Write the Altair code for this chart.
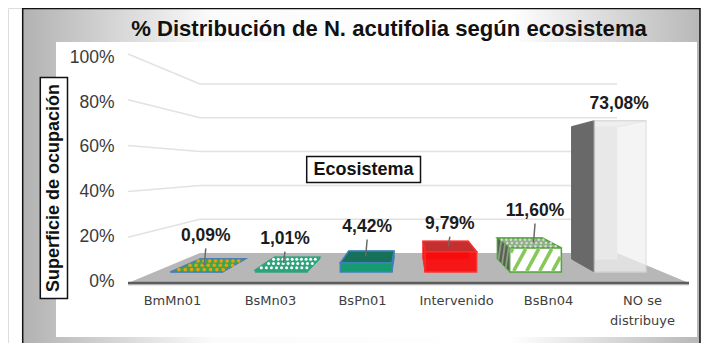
import altair as alt
import pandas as pd

# ---- data ----
CATEGORIES = ["BmMn01", "BsMn03", "BsPn01", "Intervenido", "BsBn04", "NO se distribuye"]
VALUES = [0.09, 1.01, 4.42, 9.79, 11.60, 73.08]
Y_TICKS = [0, 20, 40, 60, 80, 100]

# ---- layout of the 3D projection (image pixels) ----
W, H = 693, 335
OX, OY = 8, 8
FLOOR_FRONT_Y, FLOOR_BACK_Y = 283, 253
FRONT_K, BACK_K = 2.29, 1.69
L_F, R_F, L_B, R_B = 128, 689, 200, 617
D0, D1 = 0.367, 0.8
HALF = 0.61 / 2 / 6
X_PX0, X_K = 172, 94
Y_PX0, Y_K = 281, 2.236
LABEL_X = [172, 270, 362, 456, 548, 642]
LABEL_LIFT = [29, 24, 29.5, 22, 31.6, 20]
LABEL_DX = [9, 3.5, 1, -1, -0.5, -1]
LEADER = [True, True, True, True, True, False]

FONT = "Liberation Sans"


def px(X, p, d):
    l = L_F + (L_B - L_F) * d
    r = R_F + (R_B - R_F) * d
    y = FLOOR_FRONT_Y + (FLOOR_BACK_Y - FLOOR_FRONT_Y) * d - (FRONT_K + (BACK_K - FRONT_K) * d) * p
    return l + X * (r - l), y


def dx(x):
    return (x - X_PX0) / X_K


def dy(y):
    return (Y_PX0 - y) / Y_K


XS = alt.Scale(domain=[dx(OX), dx(OX + W)], nice=False, zero=False)
YS = alt.Scale(domain=[dy(OY + H), dy(OY)], nice=False, zero=False)

labels_js = "[" + ",".join(
    ("['NO se','distribuye']" if c.startswith("NO") else f"'{c}'") for c in CATEGORIES) + "]"
x_axis = alt.Axis(
    values=[dx(p) for p in LABEL_X],
    labelExpr=f"{labels_js}[round(datum.value)]",
    grid=False, domain=False, ticks=False, tickSize=0, offset=-49, labelPadding=0,
    labelFont="DejaVu Sans", labelFontSize=13, labelColor="#404040", labelBaseline="top",
    labelLineHeight=20, labelOverlap=False, labelFlush=False, zindex=1,
    title="Ecosistema", titleFont=FONT, titleFontSize=18, titleFontWeight="bold", titleColor="#111111",
    titleX=363 - OX, titleY=169 - (OY + H - 49), titleAlign="center", titleBaseline="middle", titleAnchor="start",
)
y_axis = alt.Axis(
    values=Y_TICKS, labelExpr="datum.value + '%'",
    grid=False, domain=False, ticks=False, tickSize=0, offset=-106, labelPadding=0,
    labelFont=FONT, labelFontSize=17.5, labelColor="#3a3a3a", labelOverlap=False, labelFlush=False,
    zindex=1,
    title="Superficie de ocupación", titleFont=FONT, titleFontSize=18, titleFontWeight="bold",
    titleColor="#111111", titleAngle=270, titleX=53.5 - OX - 106, titleY=187.5 - OY,
    titleAlign="center", titleBaseline="middle", titleAnchor="start",
)
EX = alt.X("x:Q", scale=XS, axis=x_axis)
EY = alt.Y("y:Q", scale=YS, axis=y_axis)


def hface(x1, x2, y1, x3, x4, y2, fill, stroke=None, sw=1.0, op=1.0):
    df = pd.DataFrame({"x": [dx(x1), dx(x3)], "x2": [dx(x2), dx(x4)], "y": [dy(y1), dy(y2)]})
    kw = dict(orient="horizontal", fill=fill, opacity=op)
    if stroke:
        kw.update(stroke=stroke, strokeWidth=sw)
    return alt.Chart(df).mark_area(**kw).encode(x=EX, x2="x2:Q", y=EY)


def vface(x1, y1a, y1b, x2, y2a, y2b, fill, stroke=None, sw=1.0, op=1.0):
    df = pd.DataFrame({"x": [dx(x1), dx(x2)], "y": [dy(y1a), dy(y2a)], "y2": [dy(y1b), dy(y2b)]})
    kw = dict(orient="vertical", fill=fill, opacity=op)
    if stroke:
        kw.update(stroke=stroke, strokeWidth=sw)
    return alt.Chart(df).mark_area(**kw).encode(x=EX, y=EY, y2="y2:Q")


def segs(rows, color, sw):
    df = pd.DataFrame([{"x": dx(a), "y": dy(b), "x2": dx(c), "y2": dy(e)} for a, b, c, e in rows])
    return alt.Chart(df).mark_rule(color=color, strokeWidth=sw).encode(x=EX, y=EY, x2="x2:Q", y2="y2:Q")


def dots(i, v, nrow, ncol, color, size):
    c = (i + 0.5) / 6
    rows = []
    for r in range(nrow):
        t = (r + 0.5) / nrow
        d = D0 + (D1 - D0) * t
        for k in range(ncol):
            X = c - HALF + 2 * HALF * (k + 0.5 + (0.5 if r % 2 else 0) * 0.5) / ncol
            a, b = px(X, v, d)
            rows.append({"x": dx(a), "y": dy(b)})
    return alt.Chart(pd.DataFrame(rows)).mark_circle(color=color, size=size, opacity=1).encode(x=EX, y=EY)


layers = []

# frame
grad = alt.Gradient(
    gradient="linear", x1=0, x2=1, y1=0, y2=0,
    stops=[alt.GradientStop(offset=0, color="#b2b2b2"),
           alt.GradientStop(offset=0.28, color="#fbfbfb"),
           alt.GradientStop(offset=0.72, color="#ffffff"),
           alt.GradientStop(offset=1, color="#b8b8b8")],
)
base = alt.Chart(pd.DataFrame({"a": [0]}))
layers.append(base.mark_rect(color=grad, stroke="#111111", strokeWidth=1.5).encode(
    x=alt.value(22.7 - OX), x2=alt.value(W - 1), y=alt.value(0.5), y2=alt.value(H + 10)))
layers.append(base.mark_rect(color="#ffffff").encode(
    x=alt.value(56 - OX), x2=alt.value(697 - OX), y=alt.value(42 - OY), y2=alt.value(337 - OY)))

# axes carrier
axis_df = pd.DataFrame({"x": [dx(p) for p in LABEL_X], "y": Y_TICKS})
layers.append(alt.Chart(axis_df).mark_point(opacity=0).encode(x=EX, y=EY))

# gridlines
grid_rows = []
for p in Y_TICKS[1:]:
    for j, (X, d) in enumerate([(0, 0), (0, 1), (1, 1)]):
        a, b = px(X, p, d)
        grid_rows.append({"x": dx(a), "y": dy(b), "p": p, "o": j})
layers.append(alt.Chart(pd.DataFrame(grid_rows)).mark_line(color="#e2e2e2", strokeWidth=1.5).encode(
    x=EX, y=EY, detail="p:N", order="o:Q"))

# floor
a0, b0 = px(0, 0, 0); a1, _ = px(1, 0, 0); a2, b2 = px(0, 0, 1); a3, _ = px(1, 0, 1)
layers.append(hface(a2, a3, b2, a0, a1, b0, "#b7b7b7"))
layers.append(segs([(a0, b0 + 1.8, a1, b0 + 1.8)], "#d0d0d0", 1.5))
layers.append(segs([(a0, b0, a1, b0)], "#5c5c5c", 2.5))

# bars
STY = [
    dict(top="#3ea54e", front="#3ea54e", back="#3ea54e", side="#3ea54e", stroke="#4a7fb5", sstroke="#4a7fb5", op=1),
    dict(top="#2fa37c", front="#2fa37c", back="#2fa37c", side="#2fa37c", stroke="#2fa37c", sstroke="#2fa37c", op=1),
    dict(top="#17705a", front="#169a72", back="#17705a", side="#17705a", stroke="#3f82b5", sstroke="#3f82b5", op=1),
    dict(top="#c43030", front="#fb0a0a", back="#c43030", side="#e01010", stroke="#ff2a2a", sstroke="#ff2a2a", op=0.92),
    dict(top="#8fb088", front="#ffffff", back="#8fb088", side="#5a5f58", stroke="#4fa53a", sstroke="#4fa53a", op=1),
    dict(top="#efefef", front="#f0f0f0", back="#d4d4d4", side="#696969", stroke="#dcdcdc", sstroke="#696969", op=0.72),
]
for i, v in enumerate(VALUES):
    s = STY[i]
    c = (i + 0.5) / 6
    fl, fb = px(c - HALF, 0, D0); fr, _ = px(c + HALF, 0, D0); _, ft = px(c - HALF, v, D0)
    bl, bb = px(c - HALF, 0, D1); br, _ = px(c + HALF, 0, D1); _, bt = px(c - HALF, v, D1)
    layers.append(vface(bl, bt, bb, br, bt, bb, s["back"], s["stroke"], 1))
    if br > fr:
        layers.append(vface(fr, ft, fb, br, bt, bb, s["side"], s["sstroke"], 1))
    layers.append(hface(bl, br, bt, fl, fr, ft, s["top"], s["stroke"], 1.5))
    if bl < fl:
        layers.append(vface(bl, bt, bb, fl, ft, fb, s["side"], s["sstroke"], 1))
    layers.append(vface(fl, ft, fb, fr, ft, fb, s["front"], s["stroke"], 1.5, s["op"]))
    if i == 0:
        layers.append(dots(i, v, 3, 8, "#e8a010", 13))
    if i == 1:
        layers.append(dots(i, v, 3, 10, "#ffffff", 9))
    if i == 4:
        layers.append(dots(i, v, 3, 10, "#d4dccd", 6))
        # diagonal hatching on the front face
        rows = []
        height, run, step = fb - ft - 2, 12, 13
        xs = fl - run + 3
        while xs < fr:
            a, b, c2, e = xs, fb - 1, xs + run, ft + 1
            if a < fl + 1:
                t = (fl + 1 - a) / run
                a, b = fl + 1, b - t * height
            if c2 > fr - 1:
                t = (c2 - (fr - 1)) / run
                c2, e = fr - 1, e + t * height
            if c2 > a:
                rows.append((a, b, c2, e))
            xs += step
        layers.append(segs(rows, "#86c95a", 3.6))
        # darker hatching on the side face
        side_rows = []
        for t in [0.2, 0.5, 0.8]:
            xa = bl + (fl - bl) * t
            ya = bb + (fb - bb) * t
            yb = bt + (ft - bt) * t
            side_rows.append((xa - 1.5, ya - 1, xa + 1.5, yb + 1))
        layers.append(segs(side_rows, "#8aa27c", 1.8))

# value labels and leader lines
lab_rows, lead_rows = [], []
for i, v in enumerate(VALUES):
    c = (i + 0.5) / 6
    xf, _ = px(c, v, D0)
    _, ytop = px(c, v, 0.6)
    lx = xf + LABEL_DX[i]
    ly = ytop - LABEL_LIFT[i]
    lab_rows.append({"x": dx(lx), "y": dy(ly), "t": f"{v:.2f}%".replace(".", ",")})
    if LEADER[i]:
        lead_rows.append((lx, ly + 12.5, lx - 1.5, ytop))
layers.append(segs(lead_rows, "#6a6a6a", 1.5))
layers.append(alt.Chart(pd.DataFrame(lab_rows)).mark_text(
    font=FONT, fontSize=17.5, fontWeight="bold", color="#1c1c1c", align="center", baseline="middle"
).encode(x=EX, y=EY, text="t:N"))

# boxes behind the axis titles
layers.append(base.mark_rect(color="#ffffff", stroke="#111111", strokeWidth=1.5).encode(
    x=alt.value(40.3 - OX), x2=alt.value(67.5 - OX), y=alt.value(77.5 - OY), y2=alt.value(298.5 - OY)))
layers.append(base.mark_rect(color="#ffffff", stroke="#111111", strokeWidth=1.5).encode(
    x=alt.value(306.7 - OX), x2=alt.value(420.5 - OX), y=alt.value(156.5 - OY), y2=alt.value(182.5 - OY)))

chart = alt.layer(*layers).properties(
    width=W, height=H, padding=0,
    autosize=alt.AutoSizeParams(type="none", contains="content"),
    title=alt.TitleParams(
        "% Distribución de N. acutifolia según ecosistema", font=FONT, fontSize=22.1, fontWeight="bold",
        color="#111111", anchor="middle", offset=-33, dx=389 - OX - W / 2, zindex=1),
).configure_view(stroke=None).configure(background="#ffffff")

chart.save("out.html", embed_options={"renderer": "svg", "actions": False})
